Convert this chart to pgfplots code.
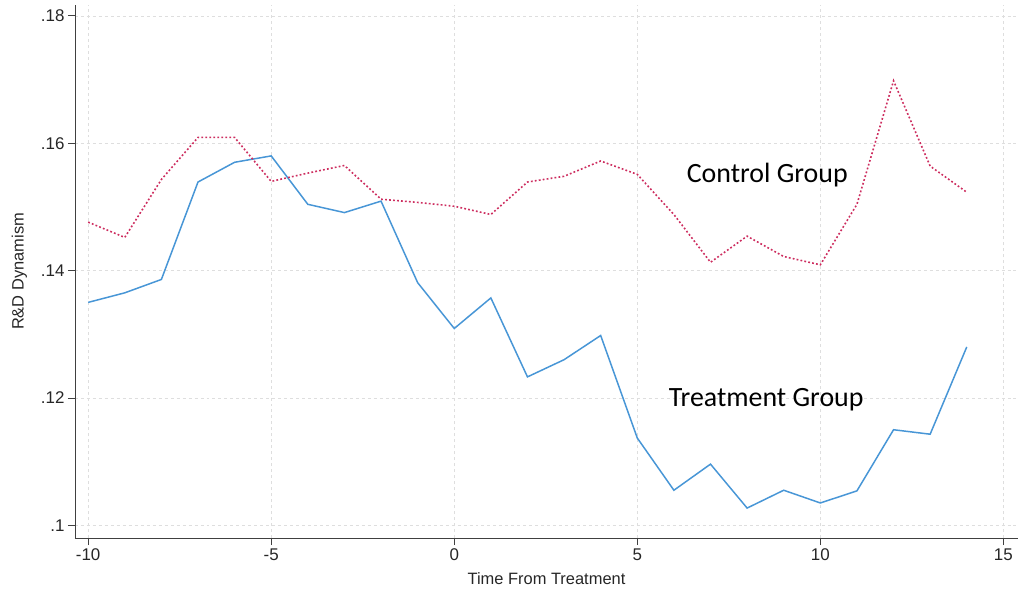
\documentclass[border=0pt]{standalone}
\usepackage{pgfplots}
\pgfplotsset{compat=1.18}
\usepackage{fontspec}
\setmainfont{Liberation Sans}
\newfontfamily\calib{Carlito}
\usetikzlibrary{calc}
\definecolor{tblue}{RGB}{72,150,214}
\definecolor{cred}{RGB}{205,45,95}
\definecolor{gridc}{RGB}{222,222,222}
\begin{document}
\begin{tikzpicture}
\begin{axis}[
  scale only axis, width=943bp, height=533bp,
  xmin=-10.36, xmax=15.4, ymin=0.098, ymax=0.1817,
  axis lines=left, axis line style={-, black!75, line width=0.8pt},
  xtick={-10,-5,0,5,10,15},
  ytick={0.1,0.12,0.14,0.16,0.18},
  yticklabels={.1,.12,.14,.16,.18},
  tick align=outside, major tick length=7bp,
  tick style={black!75, line width=0.7pt},
  grid=major, grid style={gridc, dashed, line width=0.6pt},
  /pgf/number format/assume math mode=true,
  ticklabel style={font=\fontsize{17}{19}\selectfont, text=black!85},
  xlabel={Time From Treatment}, ylabel={R\&D Dynamism},
  label style={font=\fontsize{16.5}{18}\selectfont, text=black!85},
  xlabel style={yshift=-5bp},
  ylabel style={yshift=7bp},
  clip=false,
]
\addplot[tblue, line width=1.5pt] coordinates {
(-10,0.1350) (-9,0.1365) (-8,0.1386) (-7,0.1539) (-6,0.1570) (-5,0.1580)
(-4,0.1504) (-3,0.1491) (-2,0.1509) (-1,0.1381) (0,0.1309) (1,0.1357)
(2,0.1233) (3,0.1260) (4,0.1298) (5,0.1137) (6,0.1055) (7,0.1096)
(8,0.1027) (9,0.1055) (10,0.1035) (11,0.1054) (12,0.1150) (13,0.1143) (14,0.1280)
};
\addplot[cred, line width=1.6pt, dash pattern=on 1.8pt off 2.2pt] coordinates {
(-10,0.1476) (-9,0.1452) (-8,0.1543) (-7,0.1609) (-6,0.1609) (-5,0.1540)
(-4,0.1553) (-3,0.1565) (-2,0.1512) (-1,0.1507) (0,0.1501) (1,0.1488)
(2,0.1539) (3,0.1548) (4,0.1572) (5,0.1551) (6,0.1488) (7,0.1413)
(8,0.1454) (9,0.1422) (10,0.1409) (11,0.1504) (12,0.1698) (13,0.1564) (14,0.1523)
};
\node[font=\calib\fontsize{28}{30}\selectfont] at (axis cs:8.55,0.1550) {Control Group};
\node[font=\calib\fontsize{28}{30}\selectfont] at (axis cs:8.52,0.1197) {Treatment Group};
\end{axis}
\path ($(current axis.south west)+(-75bp,-52bp)$) rectangle ($(current axis.north east)+(3bp,5bp)$);
\end{tikzpicture}
\end{document}
